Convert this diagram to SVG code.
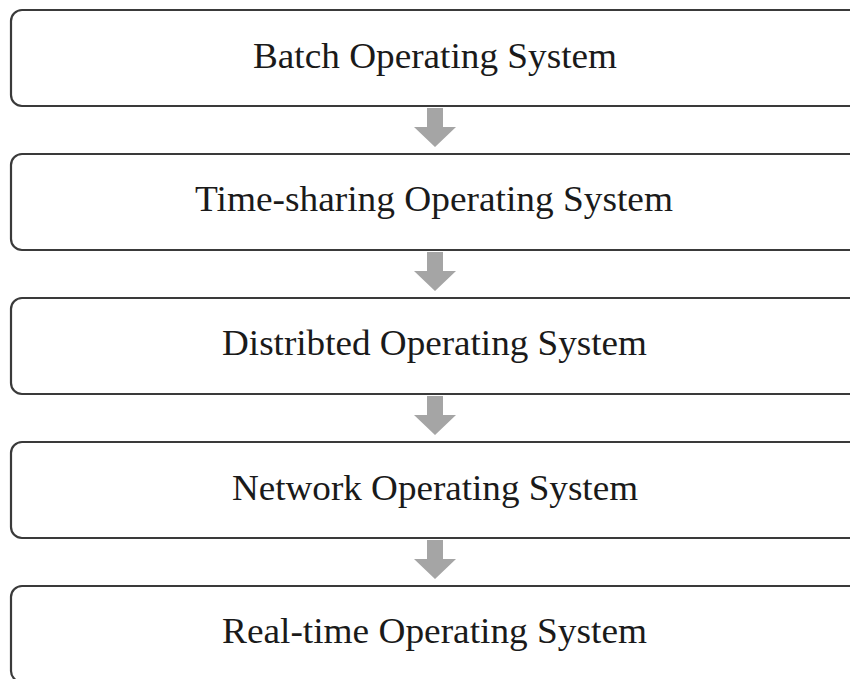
<svg xmlns="http://www.w3.org/2000/svg" width="850" height="679" viewBox="0 0 850 679">
<style>
.box{fill:#fff;stroke:#3a3a3a;stroke-width:2.2}
.lbl{font-family:"Liberation Serif","Times New Roman",serif;font-size:35px;fill:#1a1a1a;text-anchor:middle}
.arr{fill:#a5a5a5}
</style>
<defs>
<path id="down" d="M-8,0 H8 V19 H21 L0,39 L-21,19 H-8 Z"/>
</defs>
<rect width="850" height="679" fill="#fff"/>
<g id="connectors">
<use href="#down" class="arr" x="435" y="108"/>
<use href="#down" class="arr" x="435" y="252"/>
<use href="#down" class="arr" x="435" y="396"/>
<use href="#down" class="arr" x="435" y="540"/>
</g>
<g id="n1"><rect class="box" x="11" y="10" width="860" height="96" rx="11"/><text class="lbl" x="435" y="68" textLength="364" lengthAdjust="spacingAndGlyphs">Batch Operating System</text></g>
<g id="n2"><rect class="box" x="11" y="154" width="860" height="96" rx="11"/><text class="lbl" x="434" y="211" textLength="478" lengthAdjust="spacingAndGlyphs">Time-sharing Operating System</text></g>
<g id="n3"><rect class="box" x="11" y="298" width="860" height="96" rx="11"/><text class="lbl" x="434.5" y="355" textLength="425" lengthAdjust="spacingAndGlyphs">Distribted Operating System</text></g>
<g id="n4"><rect class="box" x="11" y="442" width="860" height="96" rx="11"/><text class="lbl" x="435" y="500" textLength="406" lengthAdjust="spacingAndGlyphs">Network Operating System</text></g>
<g id="n5"><rect class="box" x="11" y="586" width="860" height="96" rx="11"/><text class="lbl" x="434.5" y="643" textLength="425" lengthAdjust="spacingAndGlyphs">Real-time Operating System</text></g>
</svg>
